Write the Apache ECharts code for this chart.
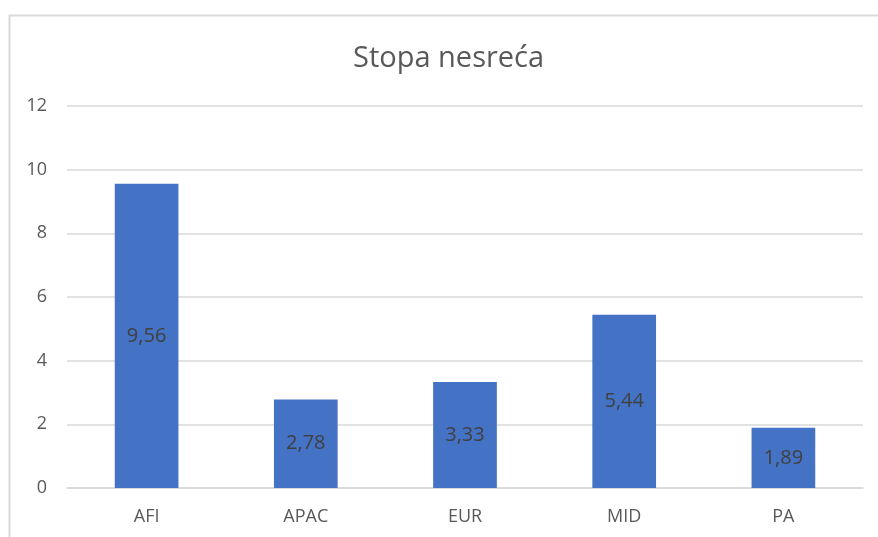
<!DOCTYPE html>
<html>
<head>
<meta charset="utf-8">
<script src="https://cdn.jsdelivr.net/npm/echarts@6/dist/echarts.min.js"></script>
<style>
  html, body { margin: 0; padding: 0; background: #fff; }
  #chart { width: 878px; height: 537px; }
</style>
</head>
<body>
<div id="chart"></div>
<script>
// Stopa nesreća po regijama
var categories = ['AFI', 'APAC', 'EUR', 'MID', 'PA'];
var rates = [9.56, 2.78, 3.33, 5.44, 1.89];

var myChart = echarts.init(document.getElementById('chart'));
myChart.setOption({
  animation: false,
  title: {
    text: 'Stopa nesreća',
    left: 348,
    top: 39,
    textStyle: {
      fontFamily: 'Open Sans',
      fontSize: 29,
      fontWeight: 'normal',
      color: '#595959'
    }
  },
  // chart area border (cropped at right and bottom)
  graphic: [
    {
      type: 'rect',
      shape: { x: 9.5, y: 15.5, width: 900, height: 600 },
      style: { fill: 'none', stroke: '#d9d9d9', lineWidth: 2 },
      silent: true
    }
  ],
  grid: {
    left: 67,
    right: 15,
    top: 106,
    bottom: 49,
    containLabel: false
  },
  xAxis: {
    type: 'category',
    data: categories,
    axisLine: { show: true, lineStyle: { color: '#d9d9d9', width: 1.5 } },
    axisTick: { show: false },
    axisLabel: {
      margin: 20,
      fontFamily: 'Open Sans',
      fontSize: 18,
      color: '#595959'
    }
  },
  yAxis: {
    type: 'value',
    min: 0,
    max: 12,
    interval: 2,
    axisLine: { show: false },
    axisTick: { show: false },
    splitLine: { lineStyle: { color: '#d9d9d9', width: 1.5 } },
    axisLabel: {
      margin: 20,
      fontFamily: 'Open Sans',
      fontSize: 18,
      color: '#595959'
    }
  },
  series: [
    {
      name: 'Stopa nesreća',
      type: 'bar',
      data: rates,
      barWidth: '40%',
      itemStyle: { color: '#4472C4' },
      label: {
        show: true,
        position: 'inside',
        fontFamily: 'Open Sans',
        fontSize: 20,
        color: '#404040',
        formatter: function(p) {
          return p.value.toFixed(2).replace('.', ',');
        }
      }
    }
  ]
});
</script>
</body>
</html>
